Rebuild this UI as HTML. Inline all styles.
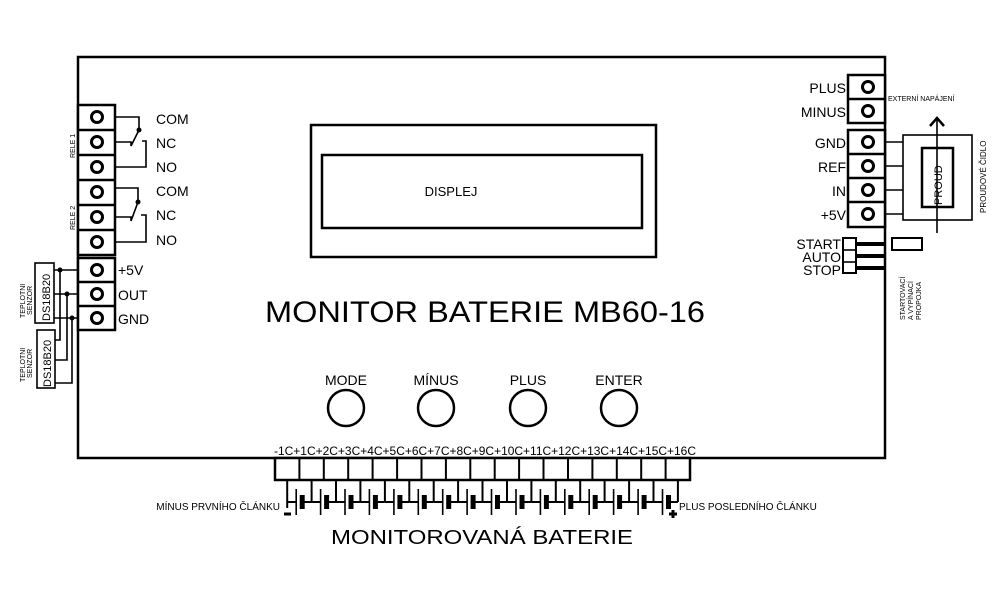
<!DOCTYPE html>
<html><head><meta charset="utf-8"><style>
html,body{margin:0;padding:0;background:#fff;}
svg{display:block;font-family:"Liberation Sans",sans-serif;}
</style></head><body>
<svg width="1000" height="600" viewBox="0 0 1000 600" xmlns="http://www.w3.org/2000/svg">
<defs>
<g id="cell" stroke="#000" fill="none">
<line x1="0" y1="480" x2="0" y2="502" stroke-width="2"/>
<line x1="0" y1="502" x2="9" y2="502" stroke-width="2"/>
<line x1="9" y1="489" x2="9" y2="515" stroke-width="1.6"/>
<line x1="15" y1="495" x2="15" y2="509" stroke-width="5"/>
<line x1="15" y1="502" x2="24.4" y2="502" stroke-width="2"/>
</g>
</defs>
<g fill="none" stroke="#000" stroke-width="2.5">
<rect x="78" y="57" width="807" height="401"/>
<rect x="311" y="125" width="345" height="132"/>
<rect x="322" y="155" width="320" height="73"/>
<circle cx="346" cy="408" r="18"/>
<circle cx="436" cy="408" r="18"/>
<circle cx="528" cy="408" r="18"/>
<circle cx="619" cy="408" r="18"/>
</g>
<g fill="#fff" stroke="#000" stroke-width="2.5">
<rect x="78" y="105" width="37" height="150"/>
<rect x="78" y="258" width="37" height="72"/>
<rect x="848" y="75" width="37" height="48"/>
<rect x="848" y="130" width="37" height="97"/>
<rect x="275" y="458" width="415" height="22"/>
</g>
<g stroke="#000" stroke-width="2.5">
<line x1="78" y1="130" x2="115" y2="130"/><line x1="78" y1="155" x2="115" y2="155"/>
<line x1="78" y1="180" x2="115" y2="180"/><line x1="78" y1="205" x2="115" y2="205"/>
<line x1="78" y1="230" x2="115" y2="230"/>
<line x1="78" y1="282" x2="115" y2="282"/><line x1="78" y1="306" x2="115" y2="306"/>
<line x1="848" y1="99" x2="885" y2="99"/>
<line x1="848" y1="154" x2="885" y2="154"/><line x1="848" y1="178" x2="885" y2="178"/><line x1="848" y1="202" x2="885" y2="202"/>
</g>
<g stroke="#000" stroke-width="2">
<line x1="299.4" y1="458" x2="299.4" y2="480"/><line x1="323.8" y1="458" x2="323.8" y2="480"/>
<line x1="348.2" y1="458" x2="348.2" y2="480"/><line x1="372.6" y1="458" x2="372.6" y2="480"/>
<line x1="397.1" y1="458" x2="397.1" y2="480"/><line x1="421.5" y1="458" x2="421.5" y2="480"/>
<line x1="445.9" y1="458" x2="445.9" y2="480"/><line x1="470.3" y1="458" x2="470.3" y2="480"/>
<line x1="494.7" y1="458" x2="494.7" y2="480"/><line x1="519.1" y1="458" x2="519.1" y2="480"/>
<line x1="543.5" y1="458" x2="543.5" y2="480"/><line x1="568" y1="458" x2="568" y2="480"/>
<line x1="592.4" y1="458" x2="592.4" y2="480"/><line x1="616.8" y1="458" x2="616.8" y2="480"/>
<line x1="641.2" y1="458" x2="641.2" y2="480"/><line x1="665.6" y1="458" x2="665.6" y2="480"/>
</g>
<use href="#cell" x="287.2"/><use href="#cell" x="311.6"/><use href="#cell" x="336"/><use href="#cell" x="360.4"/>
<use href="#cell" x="384.9"/><use href="#cell" x="409.3"/><use href="#cell" x="433.7"/><use href="#cell" x="458.1"/>
<use href="#cell" x="482.5"/><use href="#cell" x="507"/><use href="#cell" x="531.4"/><use href="#cell" x="555.8"/>
<use href="#cell" x="580.2"/><use href="#cell" x="604.6"/><use href="#cell" x="629.1"/><use href="#cell" x="653.5"/>
<line x1="677.9" y1="480" x2="677.9" y2="502" stroke="#000" stroke-width="2"/>
<line x1="287.2" y1="502" x2="287.2" y2="508" stroke="#000" stroke-width="2"/>
<g fill="none" stroke="#000" stroke-width="3">
<circle cx="97" cy="117" r="5.5"/><circle cx="97" cy="142" r="5.5"/><circle cx="97" cy="167" r="5.5"/>
<circle cx="97" cy="192" r="5.5"/><circle cx="97" cy="217" r="5.5"/><circle cx="97" cy="242" r="5.5"/>
<circle cx="97" cy="270" r="5.5"/><circle cx="97" cy="294" r="5.5"/><circle cx="97" cy="318" r="5.5"/>
<circle cx="868" cy="87" r="5.5"/><circle cx="868" cy="111" r="5.5"/>
<circle cx="868" cy="142" r="5.5"/><circle cx="868" cy="166" r="5.5"/><circle cx="868" cy="190" r="5.5"/><circle cx="868" cy="214" r="5.5"/>
</g>
<g fill="none" stroke="#000" stroke-width="1.6">
<polyline points="115,117 139,117 139,130"/>
<polyline points="115,142 131,142 131,146 139,130"/>
<polyline points="142,141 146,141 146,167 115,167"/>
<polyline points="115,188 138,188 138,202"/>
<polyline points="115,217 131,217 131,221 138,202"/>
<polyline points="141,215 146,215 146,242 115,242"/>
<rect x="35" y="263" width="19" height="60"/>
<rect x="37" y="330" width="18" height="58"/>
<polyline points="54,270 78,270"/><polyline points="54,294 78,294"/><polyline points="54,318 78,318"/>
<polyline points="60,270 60,340 55,340"/>
<polyline points="67,294 67,360 55,360"/>
<polyline points="72,318 72,383 55,383"/>
<rect x="903" y="135" width="69" height="85"/>
<rect x="922" y="148" width="31" height="59" stroke-width="2.5"/>
<line x1="937" y1="233" x2="937" y2="118"/>
<polyline points="930,126 937,118 944,126" stroke-width="2.5"/>
<line x1="885" y1="142" x2="903" y2="142"/><line x1="885" y1="166" x2="903" y2="166"/>
<line x1="885" y1="190" x2="903" y2="190"/><line x1="885" y1="214" x2="903" y2="214"/>
<rect x="843" y="238" width="13" height="35" stroke-width="2"/>
<line x1="843" y1="250" x2="856" y2="250"/><line x1="843" y1="262" x2="856" y2="262"/>
<rect x="892" y="238" width="30" height="12" stroke-width="2"/>
</g>
<g stroke="#000" stroke-width="4">
<line x1="856" y1="244" x2="885" y2="244"/><line x1="856" y1="256" x2="885" y2="256"/><line x1="856" y1="268" x2="885" y2="268"/>
</g>
<g fill="#000">
<circle cx="139" cy="130" r="2.5"/><circle cx="138" cy="202" r="2.5"/>
<circle cx="60" cy="270" r="2.5"/><circle cx="67" cy="294" r="2.5"/><circle cx="72" cy="318" r="2.5"/>
</g>
<g fill="#000" stroke="#000" stroke-width="3"><line x1="284" y1="514" x2="291" y2="514"/><line x1="669" y1="514" x2="677" y2="514"/><line x1="673" y1="510" x2="673" y2="518"/></g>
<g fill="#000" font-size="14">
<text x="156" y="124">COM</text><text x="156" y="148">NC</text><text x="156" y="172">NO</text>
<text x="156" y="196">COM</text><text x="156" y="220">NC</text><text x="156" y="245">NO</text>
<text x="118" y="275">+5V</text><text x="118" y="300">OUT</text><text x="118" y="324">GND</text>
<g text-anchor="end"><text x="846" y="93">PLUS</text><text x="846" y="117">MINUS</text>
<text x="846" y="148">GND</text><text x="846" y="172">REF</text><text x="846" y="196">IN</text><text x="846" y="220">+5V</text>
<text x="841" y="249">START</text><text x="841" y="262">AUTO</text><text x="841" y="275">STOP</text></g>
<text x="451" y="196" font-size="13" text-anchor="middle">DISPLEJ</text>
<text x="265" y="322" font-size="30" textLength="440" lengthAdjust="spacingAndGlyphs">MONITOR BATERIE MB60-16</text>
<text x="346" y="385" text-anchor="middle">MODE</text><text x="436" y="385" text-anchor="middle">MÍNUS</text>
<text x="528" y="385" text-anchor="middle">PLUS</text><text x="619" y="385" text-anchor="middle">ENTER</text>
<text x="274" y="455" font-size="12" textLength="422" lengthAdjust="spacingAndGlyphs">-1C+1C+2C+3C+4C+5C+6C+7C+8C+9C+10C+11C+12C+13C+14C+15C+16C</text>
<text x="331" y="544" font-size="20" textLength="302" lengthAdjust="spacingAndGlyphs">MONITOROVANÁ BATERIE</text>
<text x="280" y="510" font-size="10" text-anchor="end">MÍNUS PRVNÍHO ČLÁNKU</text>
<text x="679" y="510" font-size="10">PLUS POSLEDNÍHO ČLÁNKU</text>
<text x="888" y="101" font-size="7">EXTERNÍ NAPÁJENÍ</text>
<text font-size="8" transform="translate(986,213) rotate(-90)">PROUDOVÉ ČIDLO</text>
<text font-size="11" transform="translate(942,205) rotate(-90)">PROUD</text>
<text font-size="7" transform="translate(905,320) rotate(-90)">STARTOVACÍ</text>
<text font-size="7" transform="translate(913,320) rotate(-90)">A VYPÍNACÍ</text>
<text font-size="7" transform="translate(921,320) rotate(-90)">PROPOJKA</text>
<text font-size="7" transform="translate(75,158) rotate(-90)">RELE 1</text>
<text font-size="7" transform="translate(75,230) rotate(-90)">RELE 2</text>
<text font-size="11" transform="translate(50,321) rotate(-90)">DS18B20</text>
<text font-size="11" transform="translate(51,387) rotate(-90)">DS18B20</text>
<text font-size="7" transform="translate(25,318) rotate(-90)">TEPLOTNI</text>
<text font-size="7" transform="translate(32,315) rotate(-90)">SENZOR</text>
<text font-size="7" transform="translate(25,382) rotate(-90)">TEPLOTNI</text>
<text font-size="7" transform="translate(32,378) rotate(-90)">SENZOR</text>
</g>
</svg>
</body></html>
